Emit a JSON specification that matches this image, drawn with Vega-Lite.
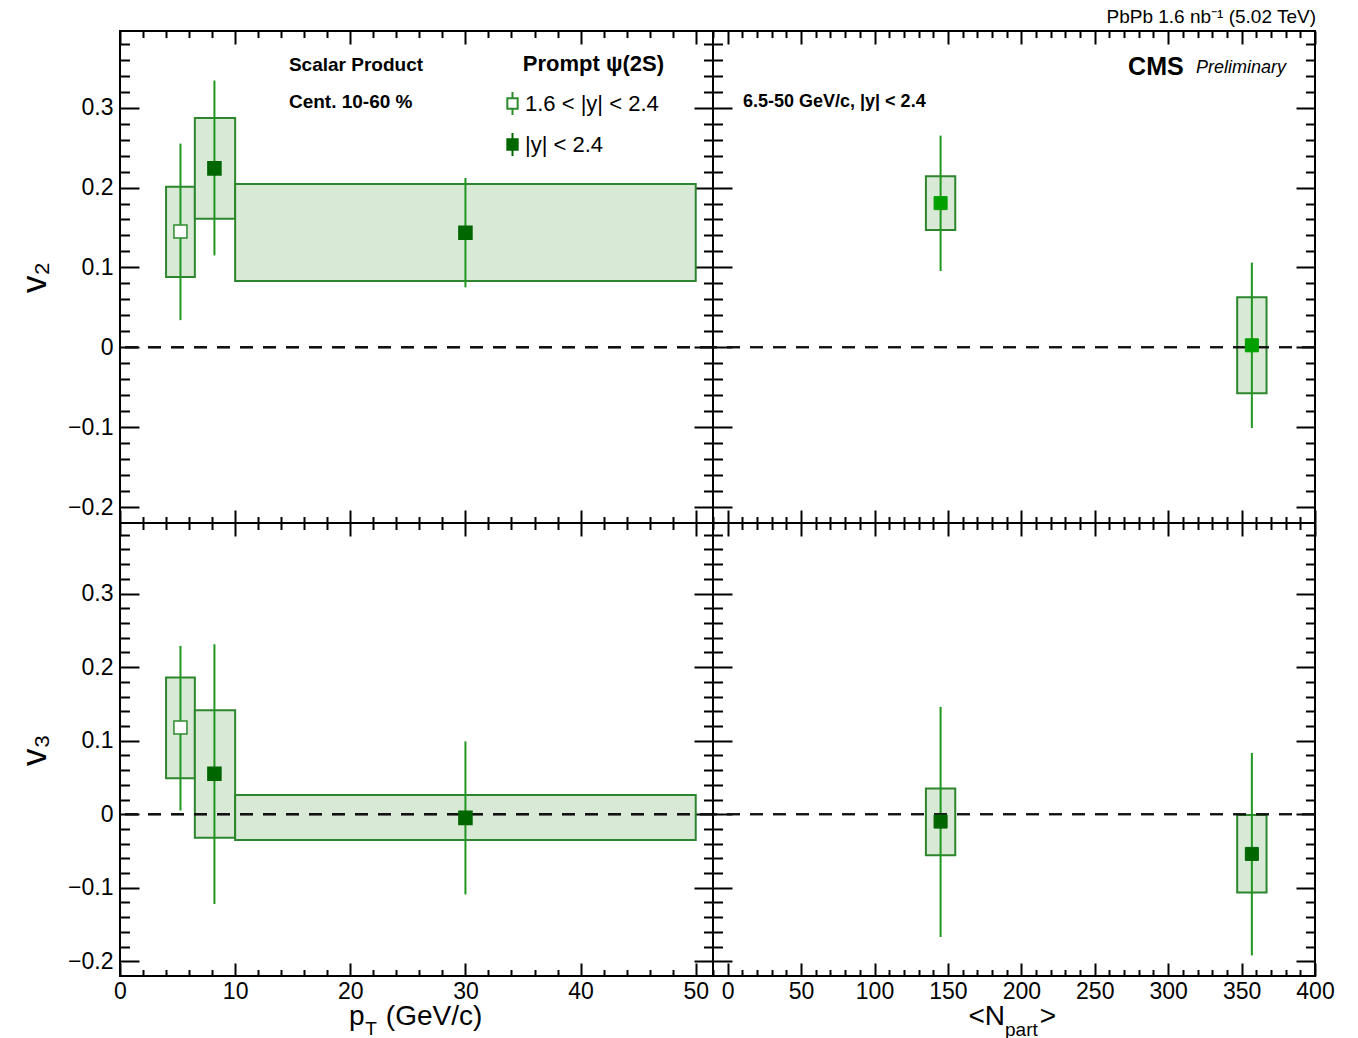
{
  "$schema": "https://vega.github.io/schema/vega-lite/v6.json",
  "background": "white",
  "padding": {"left": 16, "top": 7, "right": 5, "bottom": 0},
  "config": {
    "view": {"stroke": "black", "strokeWidth": 2},
    "axis": {"domain": false, "grid": false, "tickColor": "black", "tickWidth": 2, "labelFont": "Liberation Sans", "labelFontSize": 23, "labelColor": "black", "labelOverlap": false, "labelFlush": false, "labelBound": false, "titleFont": "Liberation Sans", "titleColor": "black", "titleFontWeight": "normal"}
  },
  "datasets": {
    "tl": [
      {"series": "1.6 < |y| < 2.4", "x": 5.25, "xlo": 4.0, "xhi": 6.5, "y": 0.145, "ylo": 0.034, "yhi": 0.255, "syslo": 0.088, "syshi": 0.201},
      {"series": "|y| < 2.4", "x": 8.2, "xlo": 6.5, "xhi": 10, "y": 0.224, "ylo": 0.115, "yhi": 0.334, "syslo": 0.161, "syshi": 0.287},
      {"series": "|y| < 2.4", "x": 30, "xlo": 10, "xhi": 50, "y": 0.1435, "ylo": 0.075, "yhi": 0.212, "syslo": 0.083, "syshi": 0.2045}
    ],
    "tr": [
      {"series": "|y| < 2.4", "x": 145, "xlo": 135, "xhi": 155, "y": 0.1805, "ylo": 0.0955, "yhi": 0.265, "syslo": 0.147, "syshi": 0.214},
      {"series": "|y| < 2.4", "x": 357, "xlo": 347, "xhi": 367, "y": 0.0025, "ylo": -0.101, "yhi": 0.106, "syslo": -0.0575, "syshi": 0.0625}
    ],
    "bl": [
      {"series": "1.6 < |y| < 2.4", "x": 5.25, "xlo": 4.0, "xhi": 6.5, "y": 0.118, "ylo": 0.005, "yhi": 0.229, "syslo": 0.049, "syshi": 0.186},
      {"series": "|y| < 2.4", "x": 8.2, "xlo": 6.5, "xhi": 10, "y": 0.055, "ylo": -0.122, "yhi": 0.231, "syslo": -0.032, "syshi": 0.1415},
      {"series": "|y| < 2.4", "x": 30, "xlo": 10, "xhi": 50, "y": -0.005, "ylo": -0.109, "yhi": 0.099, "syslo": -0.035, "syshi": 0.026}
    ],
    "br": [
      {"series": "|y| < 2.4", "x": 145, "xlo": 135, "xhi": 155, "y": -0.01, "ylo": -0.167, "yhi": 0.146, "syslo": -0.0558, "syshi": 0.035},
      {"series": "|y| < 2.4", "x": 357, "xlo": 347, "xhi": 367, "y": -0.054, "ylo": -0.192, "yhi": 0.0834, "syslo": -0.1066, "syshi": -0.001}
    ]
  },
  "columns": 2,
  "spacing": 0,
  "bounds": "flush",
  "resolve": {"scale": {"fill": "independent", "stroke": "independent", "x": "independent", "y": "independent"}, "legend": {"fill": "independent", "stroke": "independent"}},
  "concat": [
    {
      "width": 593, "height": 492,
      "data": {"name": "tl"},
      "resolve": {"axis": {"x": "independent", "y": "independent"}},
      "layer": [
        {
          "mark": {"type": "rect", "fill": "#d8e9d5", "stroke": "#2d862d", "strokeWidth": 2},
          "encoding": {
            "x": {"field": "xlo", "type": "quantitative", "scale": {"domain": [0, 51.5], "nice": false, "zero": false},
              "axis": {"orient": "bottom", "labels": false, "title": null, "values": [0,2,4,6,8,10,12,14,16,18,20,22,24,26,28,30,32,34,36,38,40,42,44,46,48,50], "tickSize": {"condition": {"test": "datum.value % 10 === 0", "value": -13}, "value": -6.5}}},
            "x2": {"field": "xhi"},
            "y": {"field": "syslo", "type": "quantitative", "scale": {"domain": [-0.22, 0.396], "nice": false, "zero": false},
              "axis": {"orient": "left", "title": "v₂", "titleFontSize": 35, "titleX": -75, "titleBaseline": "alphabetic", "values": [-0.2,-0.18,-0.16,-0.14,-0.12,-0.1,-0.08,-0.06,-0.04,-0.02,0,0.02,0.04,0.06,0.08,0.1,0.12,0.14,0.16,0.18,0.2,0.22,0.24,0.26,0.28,0.3,0.32,0.34,0.36,0.38], "tickSize": {"condition": {"test": "abs(round(datum.value*100)) % 10 === 0", "value": -19}, "value": -9.5}, "labelPadding": 26, "labelExpr": "abs(round(datum.value*100)) % 10 !== 0 ? '' : (datum.value === 0 ? '0' : format(datum.value, '.1f'))"}},
            "y2": {"field": "syshi"}
          }
        },
        {
          "mark": {"type": "rule", "stroke": "#1f961f", "strokeWidth": 2},
          "encoding": {
            "x": {"field": "x", "type": "quantitative", "scale": {"domain": [0, 51.5], "nice": false, "zero": false},
              "axis": {"orient": "top", "labels": false, "title": null, "values": [0,2,4,6,8,10,12,14,16,18,20,22,24,26,28,30,32,34,36,38,40,42,44,46,48,50], "tickSize": {"condition": {"test": "datum.value % 10 === 0", "value": -13}, "value": -6.5}}},
            "y": {"field": "ylo", "type": "quantitative", "scale": {"domain": [-0.22, 0.396], "nice": false, "zero": false},
              "axis": {"orient": "right", "labels": false, "title": null, "values": [-0.2,-0.18,-0.16,-0.14,-0.12,-0.1,-0.08,-0.06,-0.04,-0.02,0,0.02,0.04,0.06,0.08,0.1,0.12,0.14,0.16,0.18,0.2,0.22,0.24,0.26,0.28,0.3,0.32,0.34,0.36,0.38], "tickSize": {"condition": {"test": "abs(round(datum.value*100)) % 10 === 0", "value": -19}, "value": -9.5}}},
            "y2": {"field": "yhi"}
          }
        },
        {
          "mark": {"type": "rule", "stroke": "#111111", "strokeWidth": 2, "strokeDash": [13, 10]},
          "encoding": {"y": {"datum": 0, "type": "quantitative", "axis": null}}
        },
        {
          "mark": {"type": "point", "shape": "square", "size": 170, "filled": true, "strokeWidth": 1.5, "opacity": 1},
          "encoding": {
            "x": {"field": "x", "type": "quantitative", "axis": null},
            "y": {"field": "y", "type": "quantitative", "axis": null},
            "fill": {"field": "series", "type": "nominal", "scale": {"domain": ["1.6 < |y| < 2.4", "|y| < 2.4"], "range": ["white", "#006600"]},
              "legend": {"orient": "none", "legendX": 380, "legendY": 60, "title": null, "symbolType": "M-0.45,-0.45H0.45V0.45H-0.45Z M0,-0.45V-1 M0,0.45V1", "symbolSize": 529, "symbolStrokeWidth": 2, "labelFont": "Liberation Sans", "labelFontSize": 22, "labelColor": "black", "labelOffset": 0, "rowPadding": 10}},
            "stroke": {"field": "series", "type": "nominal", "scale": {"domain": ["1.6 < |y| < 2.4", "|y| < 2.4"], "range": ["#2d8a2d", "#006600"]},
              "legend": {"orient": "none", "legendX": 380, "legendY": 60, "title": null, "symbolType": "M-0.45,-0.45H0.45V0.45H-0.45Z M0,-0.45V-1 M0,0.45V1", "symbolSize": 529, "symbolStrokeWidth": 2, "labelFont": "Liberation Sans", "labelFontSize": 22, "labelColor": "black", "labelOffset": 0, "rowPadding": 10}}
          }
        },
        {
          "data": {"values": [{"label": "Scalar Product"}]},
          "mark": {"type": "text", "align": "left", "baseline": "middle", "font": "Liberation Sans", "fontWeight": "bold", "fontSize": 19, "color": "black"},
          "encoding": {"x": {"datum": 14.67, "type": "quantitative", "axis": null}, "y": {"datum": 0.3534, "type": "quantitative", "axis": null}, "text": {"field": "label"}}
        },
        {
          "data": {"values": [{"label": "Cent. 10-60 %"}]},
          "mark": {"type": "text", "align": "left", "baseline": "middle", "font": "Liberation Sans", "fontWeight": "bold", "fontSize": 19, "color": "black"},
          "encoding": {"x": {"datum": 14.67, "type": "quantitative", "axis": null}, "y": {"datum": 0.3071, "type": "quantitative", "axis": null}, "text": {"field": "label"}}
        },
        {
          "data": {"values": [{"label": "Prompt ψ(2S)"}]},
          "mark": {"type": "text", "align": "left", "baseline": "middle", "font": "Liberation Sans", "fontWeight": "bold", "fontSize": 22, "color": "black"},
          "encoding": {"x": {"datum": 34.98, "type": "quantitative", "axis": null}, "y": {"datum": 0.3547, "type": "quantitative", "axis": null}, "text": {"field": "label"}}
        }
      ]
    },
    {
      "width": 602, "height": 492,
      "data": {"name": "tr"},
      "title": {"text": "PbPb 1.6 nb⁻¹ (5.02 TeV)", "anchor": "end", "fontSize": 19, "fontWeight": "normal", "font": "Liberation Sans", "color": "black", "offset": 3},
      "resolve": {"axis": {"x": "independent", "y": "independent"}},
      "layer": [
        {
          "mark": {"type": "rect", "fill": "#d8e9d5", "stroke": "#2d862d", "strokeWidth": 2},
          "encoding": {
            "x": {"field": "xlo", "type": "quantitative", "scale": {"domain": [-10, 400], "nice": false, "zero": false},
              "axis": {"orient": "bottom", "labels": false, "title": null, "values": [-10,0,10,20,30,40,50,60,70,80,90,100,110,120,130,140,150,160,170,180,190,200,210,220,230,240,250,260,270,280,290,300,310,320,330,340,350,360,370,380,390,400], "tickSize": {"condition": {"test": "datum.value % 50 === 0", "value": -13}, "value": -6.5}}},
            "x2": {"field": "xhi"},
            "y": {"field": "syslo", "type": "quantitative", "scale": {"domain": [-0.22, 0.396], "nice": false, "zero": false},
              "axis": {"orient": "left", "labels": false, "title": null, "values": [-0.2,-0.18,-0.16,-0.14,-0.12,-0.1,-0.08,-0.06,-0.04,-0.02,0,0.02,0.04,0.06,0.08,0.1,0.12,0.14,0.16,0.18,0.2,0.22,0.24,0.26,0.28,0.3,0.32,0.34,0.36,0.38], "tickSize": {"condition": {"test": "abs(round(datum.value*100)) % 10 === 0", "value": -19}, "value": -9.5}}},
            "y2": {"field": "syshi"}
          }
        },
        {
          "mark": {"type": "rule", "stroke": "#1f961f", "strokeWidth": 2},
          "encoding": {
            "x": {"field": "x", "type": "quantitative", "scale": {"domain": [-10, 400], "nice": false, "zero": false},
              "axis": {"orient": "top", "labels": false, "title": null, "values": [-10,0,10,20,30,40,50,60,70,80,90,100,110,120,130,140,150,160,170,180,190,200,210,220,230,240,250,260,270,280,290,300,310,320,330,340,350,360,370,380,390,400], "tickSize": {"condition": {"test": "datum.value % 50 === 0", "value": -13}, "value": -6.5}}},
            "y": {"field": "ylo", "type": "quantitative", "scale": {"domain": [-0.22, 0.396], "nice": false, "zero": false},
              "axis": {"orient": "right", "labels": false, "title": null, "values": [-0.2,-0.18,-0.16,-0.14,-0.12,-0.1,-0.08,-0.06,-0.04,-0.02,0,0.02,0.04,0.06,0.08,0.1,0.12,0.14,0.16,0.18,0.2,0.22,0.24,0.26,0.28,0.3,0.32,0.34,0.36,0.38], "tickSize": {"condition": {"test": "abs(round(datum.value*100)) % 10 === 0", "value": -19}, "value": -9.5}}},
            "y2": {"field": "yhi"}
          }
        },
        {
          "mark": {"type": "rule", "stroke": "#111111", "strokeWidth": 2, "strokeDash": [13, 10]},
          "encoding": {"y": {"datum": 0, "type": "quantitative", "axis": null}}
        },
        {
          "mark": {"type": "point", "shape": "square", "size": 170, "filled": true, "opacity": 1, "fill": "#00a000", "stroke": "#00a000", "strokeWidth": 1},
          "encoding": {
            "x": {"field": "x", "type": "quantitative", "axis": null},
            "y": {"field": "y", "type": "quantitative", "axis": null}
          }
        },
        {
          "data": {"values": [{"label": "CMS"}]},
          "mark": {"type": "text", "align": "left", "baseline": "middle", "font": "Liberation Sans", "fontWeight": "bold", "fontSize": 25, "color": "black"},
          "encoding": {"x": {"datum": 272.7, "type": "quantitative", "axis": null}, "y": {"datum": 0.3509, "type": "quantitative", "axis": null}, "text": {"field": "label"}}
        },
        {
          "data": {"values": [{"label": "Preliminary"}]},
          "mark": {"type": "text", "align": "left", "baseline": "middle", "font": "Liberation Sans", "fontStyle": "italic", "fontSize": 18, "color": "black"},
          "encoding": {"x": {"datum": 319, "type": "quantitative", "axis": null}, "y": {"datum": 0.3497, "type": "quantitative", "axis": null}, "text": {"field": "label"}}
        },
        {
          "data": {"values": [{"label": "6.5-50 GeV/c, |y| < 2.4"}]},
          "mark": {"type": "text", "align": "left", "baseline": "middle", "font": "Liberation Sans", "fontWeight": "bold", "fontSize": 18, "color": "black"},
          "encoding": {"x": {"datum": 10.4, "type": "quantitative", "axis": null}, "y": {"datum": 0.3071, "type": "quantitative", "axis": null}, "text": {"field": "label"}}
        }
      ]
    },
    {
      "width": 593, "height": 453,
      "data": {"name": "bl"},
      "resolve": {"axis": {"x": "independent", "y": "independent"}},
      "layer": [
        {
          "mark": {"type": "rect", "fill": "#d8e9d5", "stroke": "#2d862d", "strokeWidth": 2},
          "encoding": {
            "x": {"field": "xlo", "type": "quantitative", "scale": {"domain": [0, 51.5], "nice": false, "zero": false},
              "axis": {"orient": "bottom", "title": null, "values": [0,2,4,6,8,10,12,14,16,18,20,22,24,26,28,30,32,34,36,38,40,42,44,46,48,50], "tickSize": {"condition": {"test": "datum.value % 10 === 0", "value": -13}, "value": -6.5}, "labelPadding": 17, "labelExpr": "datum.value % 10 === 0 ? datum.label : ''"}},
            "x2": {"field": "xhi"},
            "y": {"field": "syslo", "type": "quantitative", "scale": {"domain": [-0.22, 0.396], "nice": false, "zero": false},
              "axis": {"orient": "left", "title": "v₃", "titleFontSize": 35, "titleX": -75, "titleBaseline": "alphabetic", "values": [-0.2,-0.18,-0.16,-0.14,-0.12,-0.1,-0.08,-0.06,-0.04,-0.02,0,0.02,0.04,0.06,0.08,0.1,0.12,0.14,0.16,0.18,0.2,0.22,0.24,0.26,0.28,0.3,0.32,0.34,0.36,0.38], "tickSize": {"condition": {"test": "abs(round(datum.value*100)) % 10 === 0", "value": -19}, "value": -9.5}, "labelPadding": 26, "labelExpr": "abs(round(datum.value*100)) % 10 !== 0 ? '' : (datum.value === 0 ? '0' : format(datum.value, '.1f'))"}},
            "y2": {"field": "syshi"}
          }
        },
        {
          "mark": {"type": "rule", "stroke": "#1f961f", "strokeWidth": 2},
          "encoding": {
            "x": {"field": "x", "type": "quantitative", "scale": {"domain": [0, 51.5], "nice": false, "zero": false},
              "axis": {"orient": "top", "labels": false, "title": null, "values": [0,2,4,6,8,10,12,14,16,18,20,22,24,26,28,30,32,34,36,38,40,42,44,46,48,50], "tickSize": {"condition": {"test": "datum.value % 10 === 0", "value": -13}, "value": -6.5}}},
            "y": {"field": "ylo", "type": "quantitative", "scale": {"domain": [-0.22, 0.396], "nice": false, "zero": false},
              "axis": {"orient": "right", "labels": false, "title": null, "values": [-0.2,-0.18,-0.16,-0.14,-0.12,-0.1,-0.08,-0.06,-0.04,-0.02,0,0.02,0.04,0.06,0.08,0.1,0.12,0.14,0.16,0.18,0.2,0.22,0.24,0.26,0.28,0.3,0.32,0.34,0.36,0.38], "tickSize": {"condition": {"test": "abs(round(datum.value*100)) % 10 === 0", "value": -19}, "value": -9.5}}},
            "y2": {"field": "yhi"}
          }
        },
        {
          "mark": {"type": "rule", "stroke": "#111111", "strokeWidth": 2, "strokeDash": [13, 10]},
          "encoding": {"y": {"datum": 0, "type": "quantitative", "axis": null}}
        },
        {
          "mark": {"type": "point", "shape": "square", "size": 170, "filled": true, "strokeWidth": 1.5, "opacity": 1},
          "encoding": {
            "x": {"field": "x", "type": "quantitative", "axis": null},
            "y": {"field": "y", "type": "quantitative", "axis": null},
            "fill": {"field": "series", "type": "nominal", "scale": {"domain": ["1.6 < |y| < 2.4", "|y| < 2.4"], "range": ["white", "#006600"]}, "legend": null},
            "stroke": {"field": "series", "type": "nominal", "scale": {"domain": ["1.6 < |y| < 2.4", "|y| < 2.4"], "range": ["#2d8a2d", "#006600"]}, "legend": null}
          }
        },
        {
          "data": {"values": [{"label": "p"}]},
          "mark": {"type": "text", "align": "left", "baseline": "alphabetic", "font": "Liberation Sans", "fontSize": 28, "color": "black"},
          "encoding": {"x": {"datum": 19.88, "type": "quantitative", "axis": null}, "y": {"datum": -0.2862, "type": "quantitative", "axis": null}, "text": {"field": "label"}}
        },
        {
          "data": {"values": [{"label": "T"}]},
          "mark": {"type": "text", "align": "left", "baseline": "alphabetic", "font": "Liberation Sans", "fontSize": 19, "color": "black"},
          "encoding": {"x": {"datum": 21.3, "type": "quantitative", "axis": null}, "y": {"datum": -0.3, "type": "quantitative", "axis": null}, "text": {"field": "label"}}
        },
        {
          "data": {"values": [{"label": "(GeV/c)"}]},
          "mark": {"type": "text", "align": "left", "baseline": "alphabetic", "font": "Liberation Sans", "fontSize": 28, "color": "black"},
          "encoding": {"x": {"datum": 23.09, "type": "quantitative", "axis": null}, "y": {"datum": -0.2862, "type": "quantitative", "axis": null}, "text": {"field": "label"}}
        }
      ]
    },
    {
      "width": 602, "height": 453,
      "data": {"name": "br"},
      "resolve": {"axis": {"x": "independent", "y": "independent"}},
      "layer": [
        {
          "mark": {"type": "rect", "fill": "#d8e9d5", "stroke": "#2d862d", "strokeWidth": 2},
          "encoding": {
            "x": {"field": "xlo", "type": "quantitative", "scale": {"domain": [-10, 400], "nice": false, "zero": false},
              "axis": {"orient": "bottom", "title": null, "values": [-10,0,10,20,30,40,50,60,70,80,90,100,110,120,130,140,150,160,170,180,190,200,210,220,230,240,250,260,270,280,290,300,310,320,330,340,350,360,370,380,390,400], "tickSize": {"condition": {"test": "datum.value % 50 === 0", "value": -13}, "value": -6.5}, "labelPadding": 17, "labelExpr": "datum.value % 50 === 0 ? datum.label : ''"}},
            "x2": {"field": "xhi"},
            "y": {"field": "syslo", "type": "quantitative", "scale": {"domain": [-0.22, 0.396], "nice": false, "zero": false},
              "axis": {"orient": "left", "labels": false, "title": null, "values": [-0.2,-0.18,-0.16,-0.14,-0.12,-0.1,-0.08,-0.06,-0.04,-0.02,0,0.02,0.04,0.06,0.08,0.1,0.12,0.14,0.16,0.18,0.2,0.22,0.24,0.26,0.28,0.3,0.32,0.34,0.36,0.38], "tickSize": {"condition": {"test": "abs(round(datum.value*100)) % 10 === 0", "value": -19}, "value": -9.5}}},
            "y2": {"field": "syshi"}
          }
        },
        {
          "mark": {"type": "rule", "stroke": "#1f961f", "strokeWidth": 2},
          "encoding": {
            "x": {"field": "x", "type": "quantitative", "scale": {"domain": [-10, 400], "nice": false, "zero": false},
              "axis": {"orient": "top", "labels": false, "title": null, "values": [-10,0,10,20,30,40,50,60,70,80,90,100,110,120,130,140,150,160,170,180,190,200,210,220,230,240,250,260,270,280,290,300,310,320,330,340,350,360,370,380,390,400], "tickSize": {"condition": {"test": "datum.value % 50 === 0", "value": -13}, "value": -6.5}}},
            "y": {"field": "ylo", "type": "quantitative", "scale": {"domain": [-0.22, 0.396], "nice": false, "zero": false},
              "axis": {"orient": "right", "labels": false, "title": null, "values": [-0.2,-0.18,-0.16,-0.14,-0.12,-0.1,-0.08,-0.06,-0.04,-0.02,0,0.02,0.04,0.06,0.08,0.1,0.12,0.14,0.16,0.18,0.2,0.22,0.24,0.26,0.28,0.3,0.32,0.34,0.36,0.38], "tickSize": {"condition": {"test": "abs(round(datum.value*100)) % 10 === 0", "value": -19}, "value": -9.5}}},
            "y2": {"field": "yhi"}
          }
        },
        {
          "mark": {"type": "rule", "stroke": "#111111", "strokeWidth": 2, "strokeDash": [13, 10]},
          "encoding": {"y": {"datum": 0, "type": "quantitative", "axis": null}}
        },
        {
          "mark": {"type": "point", "shape": "square", "size": 170, "filled": true, "opacity": 1, "fill": "#006600", "stroke": "#006600", "strokeWidth": 1},
          "encoding": {
            "x": {"field": "x", "type": "quantitative", "axis": null},
            "y": {"field": "y", "type": "quantitative", "axis": null}
          }
        },
        {
          "data": {"values": [{"label": "<N"}]},
          "mark": {"type": "text", "align": "right", "baseline": "alphabetic", "font": "Liberation Sans", "fontSize": 28, "color": "black"},
          "encoding": {"x": {"datum": 188.9, "type": "quantitative", "axis": null}, "y": {"datum": -0.2862, "type": "quantitative", "axis": null}, "text": {"field": "label"}}
        },
        {
          "data": {"values": [{"label": "part"}]},
          "mark": {"type": "text", "align": "left", "baseline": "alphabetic", "font": "Liberation Sans", "fontSize": 19, "color": "black"},
          "encoding": {"x": {"datum": 188.9, "type": "quantitative", "axis": null}, "y": {"datum": -0.301, "type": "quantitative", "axis": null}, "text": {"field": "label"}}
        },
        {
          "data": {"values": [{"label": ">"}]},
          "mark": {"type": "text", "align": "left", "baseline": "alphabetic", "font": "Liberation Sans", "fontSize": 28, "color": "black"},
          "encoding": {"x": {"datum": 212.5, "type": "quantitative", "axis": null}, "y": {"datum": -0.2862, "type": "quantitative", "axis": null}, "text": {"field": "label"}}
        }
      ]
    }
  ]
}
